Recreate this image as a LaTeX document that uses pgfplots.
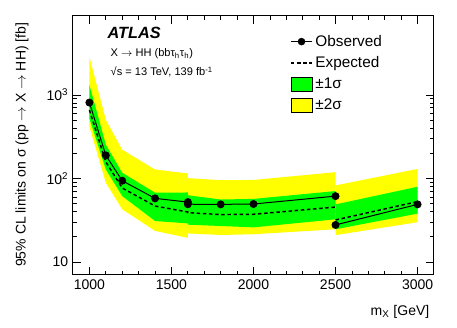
\documentclass[border=0pt]{standalone}
\usepackage{fontspec}
\setmainfont{Liberation Sans}
\usepackage{pgfplots}
\pgfplotsset{compat=1.18}
\definecolor{rootgreen}{RGB}{0,255,0}
\definecolor{rootyellow}{RGB}{255,255,0}

\begin{document}
\begin{tikzpicture}
\begin{semilogyaxis}[
    scale only axis,
    width=270.75pt, height=194.25pt,
    xmin=900, xmax=3100, ymin=7, ymax=8800,
    xtick={1000,1500,2000,2500,3000},
    xticklabels={1000,1500,2000,2500,3000},
    minor x tick num=4,
    ytick={10,100,1000},
    yticklabels={10,10\textsuperscript{2},10\textsuperscript{3}},
    tick align=inside,
    major tick length=6pt, minor tick length=3pt,
    tick style={black, line width=0.6pt},
    axis line style={line width=0.75pt},
    ticklabel style={font=\fontsize{10.5}{12}\selectfont},
    xlabel={m\textsubscript{X} [GeV]},
    ylabel={95\% CL limits on σ (pp $\rightarrow$ X $\rightarrow$ HH) [fb]},
    label style={font=\fontsize{10.5}{12}\selectfont},
    xlabel style={at={(axis description cs:1,-0.143)}, anchor=east},
    ylabel style={at={(axis description cs:-0.141,0.992)}, anchor=east},
    legend style={draw=none, fill=none, at={(0.59,0.948)}, anchor=north west,
        font=\fontsize{11.5}{13}\selectfont, row sep=2.2pt},
    legend cell align=left,
]
% +-2 sigma bands, three pieces
\addplot[fill=rootyellow, draw=none, forget plot] coordinates {
    (1000,2855) (1100,504) (1200,221) (1400,128) (1600,115)
    (1600,19.5) (1400,23.6) (1200,42.8) (1100,89) (1000,420)};
\addplot[fill=rootyellow, draw=none, forget plot] coordinates {
    (1600,101) (1800,95.4) (2000,96) (2500,119)
    (2500,24.7) (2000,21.5) (1800,21.1) (1600,22)};
\addplot[fill=rootyellow, draw=none, forget plot] coordinates {
    (2500,82.6) (3000,130) (3000,30) (2500,21)};
% +-1 sigma bands
\addplot[fill=rootgreen, draw=none, forget plot] coordinates {
    (1000,1315) (1100,254) (1200,117) (1400,67.6) (1600,68)
    (1600,29) (1400,31) (1200,61.6) (1100,128) (1000,520)};
\addplot[fill=rootgreen, draw=none, forget plot] coordinates {
    (1600,63) (1800,56) (2000,57) (2500,70.7)
    (2500,32.5) (2000,26) (1800,27) (1600,28)};
\addplot[fill=rootgreen, draw=none, forget plot] coordinates {
    (2500,49) (3000,79.6) (3000,38) (2500,24.7)};
% expected
\addplot[black, line width=1.1pt, dash pattern=on 2.6pt off 2pt, forget plot] coordinates {
    (1000,660) (1100,158) (1200,77) (1400,46.8) (1600,39.7) (1600,39)
    (1800,37) (2000,37.3) (2500,45.5)};
\addplot[black, line width=1.1pt, dash pattern=on 2.6pt off 2pt, forget plot] coordinates {
    (2500,31.9) (3000,52.9)};
% observed
\addplot[black, line width=0.75pt, mark=*, mark size=2.6pt, forget plot] coordinates {
    (1000,810) (1100,189) (1200,94) (1400,57.8) (1600,52.2) (1600,49.2)
    (1800,49) (2000,49.5) (2500,61.5)};
\addplot[black, line width=0.75pt, mark=*, mark size=2.6pt, forget plot] coordinates {
    (2500,27.8) (3000,49)};

\addlegendimage{legend image code/.code={\draw[black, line width=0.75pt] (0pt,0pt) -- (15.75pt,0pt);
        \fill[black] (7.9pt,0pt) circle (2.6pt);}}
\addlegendentry{Observed}
\addlegendimage{legend image code/.code={\draw[black, line width=1.1pt, dash pattern=on 2.6pt off 2pt] (0pt,0pt) -- (15.75pt,0pt);}}
\addlegendentry{Expected}
\addlegendimage{legend image code/.code={\draw[fill=rootgreen, draw=black, line width=0.6pt]
    (0pt,-5.25pt) rectangle (15.75pt,5.25pt);}}
\addlegendentry{±1σ}
\addlegendimage{legend image code/.code={\draw[fill=rootyellow, draw=black, line width=0.6pt]
    (0pt,-5.25pt) rectangle (15.75pt,5.25pt);}}
\addlegendentry{±2σ}

\node[anchor=west, font=\fontsize{12.2}{14}\selectfont\bfseries\itshape]
    at (rel axis cs:0.083,0.934) {ATLAS};
\node[anchor=west, font=\fontsize{8.3}{9.5}\selectfont]
    at (rel axis cs:0.0914,0.853) {X $\rightarrow$ HH (bbτ\textsubscript{h}τ\textsubscript{h})};
\node[anchor=west, font=\fontsize{8.3}{9.5}\selectfont]
    at (rel axis cs:0.0914,0.784) {√s = 13 TeV, 139 fb\textsuperscript{-1}};
\end{semilogyaxis}
\pgfresetboundingbox
\path[use as bounding box] (current axis.south west) ++(-54.75pt,-39.75pt) rectangle ++(342.75pt,246pt);
\end{tikzpicture}
\end{document}
